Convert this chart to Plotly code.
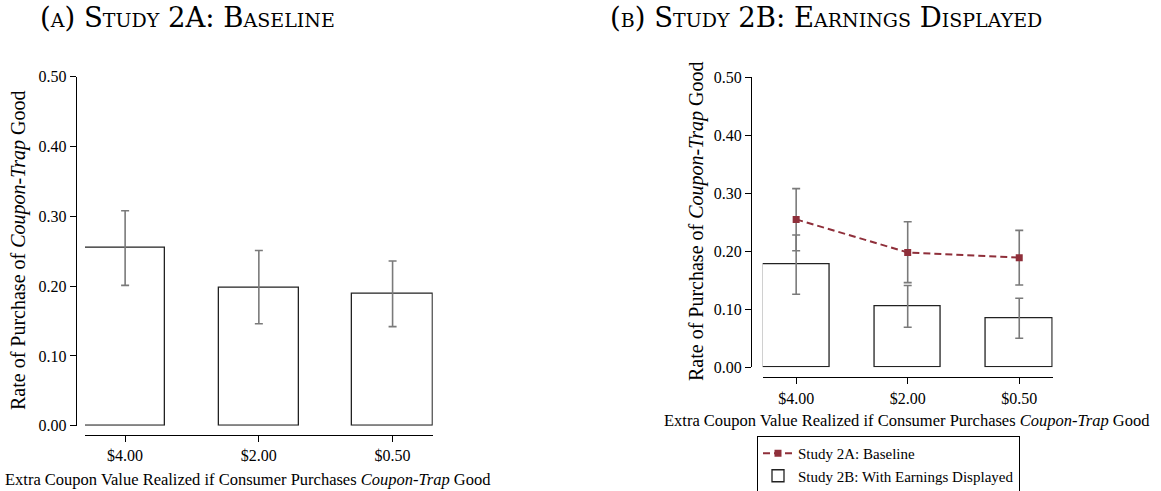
import plotly.graph_objects as go

categories = ["$4.00", "$2.00", "$0.50"]
y_ticks = [0.0, 0.1, 0.2, 0.3, 0.4, 0.5]

# Study 2A: Baseline
base_rate = [0.255, 0.198, 0.189]
base_upper = [0.308, 0.251, 0.236]
base_lower = [0.201, 0.146, 0.142]

# Study 2B: With Earnings Displayed
earn_rate = [0.177, 0.105, 0.085]
earn_upper = [0.228, 0.141, 0.119]
earn_lower = [0.126, 0.069, 0.050]

W, H = 1161, 491
FONT = "Liberation Serif"
TFONT = "DejaVu Serif"
ERR = "#7a7a7a"
RED = "#8f2f3a"

def px_x(p):
    return p / W

def px_y(p):
    return 1 - p / H

def plus(v, hi):
    return [h - x for h, x in zip(hi, v)]

def minus(v, lo):
    return [x - l for l, x in zip(lo, v)]

fig = go.Figure()

# Panel A bars
fig.add_trace(go.Bar(
    x=categories, y=base_rate, width=0.6, xaxis="x", yaxis="y",
    marker=dict(color="white", line=dict(color="#222222", width=1.3)),
    error_y=dict(type="data", symmetric=False, array=plus(base_rate, base_upper),
                 arrayminus=minus(base_rate, base_lower), color=ERR, thickness=1.6, width=4),
    showlegend=False,
))

# Panel B baseline line
fig.add_trace(go.Scatter(
    x=categories, y=base_rate, xaxis="x2", yaxis="y2", mode="lines+markers",
    name="Study 2A: Baseline",
    line=dict(color=RED, width=2, dash="7px,4px"),
    marker=dict(symbol="square", size=7, color=RED),
    error_y=dict(type="data", symmetric=False, array=plus(base_rate, base_upper),
                 arrayminus=minus(base_rate, base_lower), color=ERR, thickness=1.6, width=4),
))

# Panel B bars
fig.add_trace(go.Bar(
    x=categories, y=earn_rate, width=0.6, xaxis="x2", yaxis="y2",
    name="Study 2B: With Earnings Displayed",
    marker=dict(color="white", line=dict(color="#222222", width=1.3)),
    error_y=dict(type="data", symmetric=False, array=plus(earn_rate, earn_upper),
                 arrayminus=minus(earn_rate, earn_lower), color=ERR, thickness=1.6, width=4),
))

axis_common = dict(showgrid=False, zeroline=False, showline=True, linecolor="black",
                   linewidth=1, ticks="outside", ticklen=6, tickcolor="black", tickwidth=1,
                   automargin=False)

fig.update_layout(
    width=W, height=H,
    margin=dict(l=0, r=0, t=0, b=0, autoexpand=False),
    paper_bgcolor="white", plot_bgcolor="white",
    font=dict(family=FONT, color="black"),
    xaxis=dict(domain=[px_x(85), px_x(432.7)], range=[-0.3, 2.3], anchor="free",
               position=px_y(435), tickfont=dict(size=16), **axis_common),
    yaxis=dict(domain=[px_y(425.7), px_y(76.7)], range=[0, 0.5], anchor="free",
               position=px_x(75.7), tickvals=y_ticks, tickformat=".2f",
               tickfont=dict(size=16), **axis_common),
    xaxis2=dict(domain=[px_x(762.7), px_x(1052.7)], range=[-0.3, 2.3], anchor="free",
                position=px_y(377.3), tickfont=dict(size=16), **axis_common),
    yaxis2=dict(domain=[px_y(367.3), px_y(77.3)], range=[0, 0.5], anchor="free",
                position=px_x(751), tickvals=y_ticks, tickformat=".2f",
                tickfont=dict(size=16), **axis_common),
    legend=dict(x=px_x(757), y=px_y(436), xanchor="left", yanchor="top",
                bordercolor="black", borderwidth=1, bgcolor="white",
                font=dict(size=15), tracegroupgap=0, itemwidth=30),
    bargap=0,
)

ytitle = "Rate of Purchase of <i>Coupon-Trap</i> Good"
xtitle = "Extra Coupon Value Realized if Consumer Purchases <i>Coupon-Trap</i> Good"

annotations = [
    dict(text="(a) Study 2A: Baseline", x=px_x(38), y=px_y(17), xanchor="left", yanchor="middle",
         font=dict(size=27.5, family=TFONT, variant="small-caps")),
    dict(text="(b) Study 2B: Earnings Displayed", x=px_x(608), y=px_y(17), xanchor="left",
         yanchor="middle", font=dict(size=27.5, family=TFONT, variant="small-caps")),
    dict(text=ytitle, x=px_x(18), y=px_y(251), textangle=-90, xanchor="center", yanchor="middle",
         font=dict(size=20, family=FONT)),
    dict(text=ytitle, x=px_x(696), y=px_y(222), textangle=-90, xanchor="center", yanchor="middle",
         font=dict(size=20, family=FONT)),
    dict(text=xtitle, x=px_x(247.5), y=px_y(479), xanchor="center", yanchor="middle",
         font=dict(size=16.5, family=FONT)),
    dict(text=xtitle, x=px_x(906.5), y=px_y(420), xanchor="center", yanchor="middle",
         font=dict(size=16.5, family=FONT)),
]
for a in annotations:
    a.update(xref="paper", yref="paper", showarrow=False)
fig.update_layout(annotations=annotations)

fig.write_html("out.html", config={"displayModeBar": False},
               post_script="document.body.style.margin='0px';")
